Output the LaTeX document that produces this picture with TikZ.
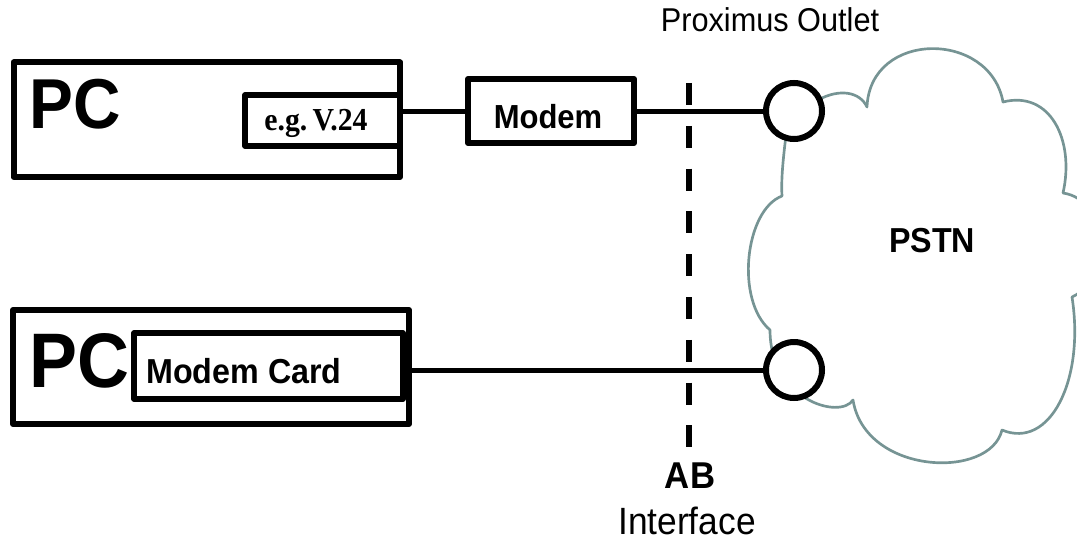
\documentclass[tikz,border=0pt]{standalone}
\usepackage{fontspec}
\setmainfont{Liberation Sans}[FakeStretch=0.93]
\newfontfamily\labelserif{Liberation Serif}[FakeStretch=0.93]
\usetikzlibrary{fit}
\definecolor{cloudgray}{RGB}{118,148,148}
\newcommand{\fs}[1]{\fontsize{#1}{#1}\selectfont}
\begin{document}
\begin{tikzpicture}[x=0.75pt,y=-0.75pt,
  box/.style={draw, line width=4.5pt, inner sep=0pt, line join=round},
  ibox/.style={draw, line width=4pt, inner sep=0pt, line join=round},
  wire/.style={line width=3.75pt},
  outlet/.style={circle, draw, fill=white, line width=4.5pt, minimum size=42pt, inner sep=0pt},
  txt/.style={inner sep=0pt, anchor=base},
  cloudline/.style={draw=cloudgray, line width=2pt, line join=round},
  abline/.style={line width=5pt, dash pattern=on 16.5pt off 15.6pt}
]
\useasboundingbox (0,0) rectangle (1077,542);

% PSTN cloud, cut off by the right edge
\begin{scope}
  \clip (0,0) rectangle (1077,542);
  \draw[cloudline] (786,135) .. controls (783,160) and (781,180) .. (782,196)
    .. controls (745,210) and (735,300) .. (770,330)
    .. controls (770,400) and (840,420) .. (853,400)
    .. controls (865,475) and (990,480) .. (1002,430)
    .. controls (1050,450) and (1085,380) .. (1072,297)
    .. controls (1110,280) and (1110,200) .. (1063,193)
    .. controls (1075,140) and (1050,90) .. (1003,102)
    .. controls (990,30) and (870,30) .. (867,107)
    .. controls (860,92) and (840,88) .. (818,100);
\end{scope}
\node[txt, font=\bfseries\fs{26pt}] (pstn) at (932,252) {PSTN};

% upper PC with external modem
\node[box, fit={(13.5,62.5) (400,177)}] (pc1) {};
\node[ibox, fit={(245,95) (400,146)}] (v24) {};
\node[txt, font=\bfseries\fs{53pt}] (pc1t) at (75,128) {PC};
\node[txt, font=\labelserif\bfseries\fs{24pt}] (v24t) at (316,130) {e.g.\,V.24};
\node[box, fit={(468,79) (634,143)}] (modem) {};
\node[txt, font=\bfseries\fs{25pt}] (modemt) at (548,128) {Modem};

% lower PC with internal modem card
\node[box, fit={(13,310) (409,424)}] (pc2) {};
\node[ibox, fit={(134,333) (403,399)}] (card) {};
\node[txt, font=\bfseries\fs{58pt}] (pc2t) at (79,387) {PC};
\node[txt, font=\bfseries\fs{26pt}] (cardt) at (244,383) {Modem Card};

% outlets
\coordinate (o1c) at (794,111);
\coordinate (o2c) at (794,370);

% wires
\draw[wire] (modem.west -| pc1.east) -- (modem.west);
\draw[wire] (modem.east) -- (o1c);
\draw[wire] (pc2.east |- o2c) -- (o2c);

\node[outlet] (o1) at (o1c) {};
\node[outlet] (o2) at (o2c) {};
\node[txt, font=\fs{24.75pt}] (outlet) at (770,32) {Proximus Outlet};

% AB interface
\coordinate (abtop) at (689,83);
\coordinate (abbot) at (689,447);
\draw[abline] (abtop) -- (abbot);
\node[txt, font=\bfseries\fs{28pt}] (ab) at (690,488) {AB};
\node[txt, font=\fs{28.5pt}] (iface) at (687,534) {Interface};
\end{tikzpicture}
\end{document}
